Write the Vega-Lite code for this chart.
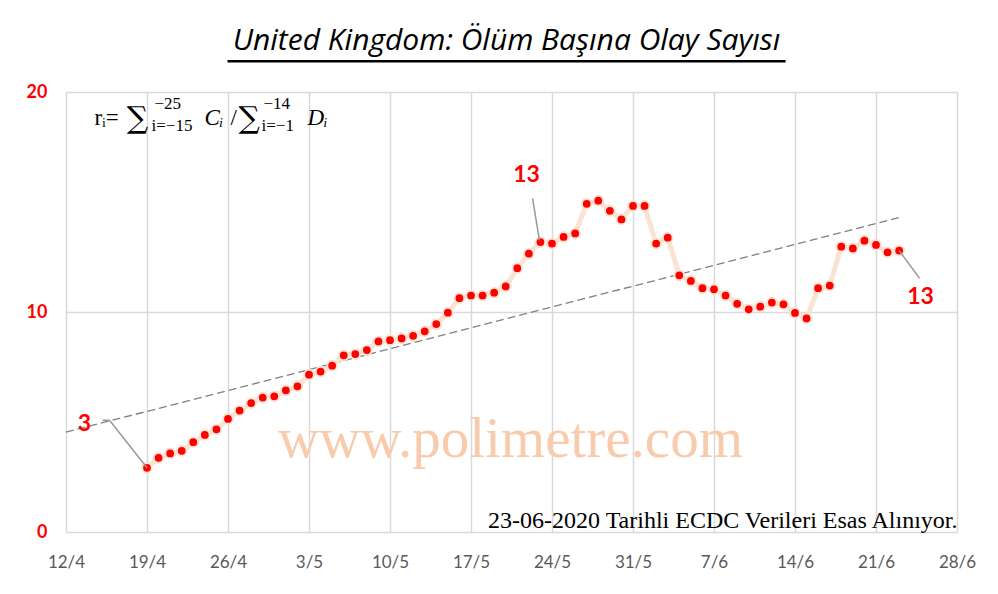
{
  "$schema": "https://vega.github.io/schema/vega-lite/v6.json",
  "width": 891,
  "height": 440,
  "autosize": "none",
  "padding": {"left": 66, "top": 92, "right": 41, "bottom": 62},
  "background": "white",
  "config": {"view": {"stroke": null}},
  "title": {"text": "United Kingdom: Ölüm Başına Olay Sayısı", "font": "Open Sans", "fontSize": 30, "fontStyle": "italic", "fontWeight": "normal", "color": "#000000", "anchor": "middle", "frame": "group", "baseline": "alphabetic", "offset": -20, "dx": -5},
  "data": {"values": [
    {"date": "2020-04-19", "v": 2.92}, {"date": "2020-04-20", "v": 3.37}, {"date": "2020-04-21", "v": 3.57}, {"date": "2020-04-22", "v": 3.69},
    {"date": "2020-04-23", "v": 4.08}, {"date": "2020-04-24", "v": 4.41}, {"date": "2020-04-25", "v": 4.67}, {"date": "2020-04-26", "v": 5.14},
    {"date": "2020-04-27", "v": 5.52}, {"date": "2020-04-28", "v": 5.86}, {"date": "2020-04-29", "v": 6.11}, {"date": "2020-04-30", "v": 6.17},
    {"date": "2020-05-01", "v": 6.44}, {"date": "2020-05-02", "v": 6.62}, {"date": "2020-05-03", "v": 7.15}, {"date": "2020-05-04", "v": 7.29},
    {"date": "2020-05-05", "v": 7.56}, {"date": "2020-05-06", "v": 8.03}, {"date": "2020-05-07", "v": 8.09}, {"date": "2020-05-08", "v": 8.27},
    {"date": "2020-05-09", "v": 8.66}, {"date": "2020-05-10", "v": 8.72}, {"date": "2020-05-11", "v": 8.80}, {"date": "2020-05-12", "v": 8.92},
    {"date": "2020-05-13", "v": 9.12}, {"date": "2020-05-14", "v": 9.45}, {"date": "2020-05-15", "v": 9.97}, {"date": "2020-05-16", "v": 10.63},
    {"date": "2020-05-17", "v": 10.75}, {"date": "2020-05-18", "v": 10.75}, {"date": "2020-05-19", "v": 10.88}, {"date": "2020-05-20", "v": 11.16},
    {"date": "2020-05-21", "v": 11.99}, {"date": "2020-05-22", "v": 12.65}, {"date": "2020-05-23", "v": 13.18}, {"date": "2020-05-24", "v": 13.11},
    {"date": "2020-05-25", "v": 13.41}, {"date": "2020-05-26", "v": 13.57}, {"date": "2020-05-27", "v": 14.92}, {"date": "2020-05-28", "v": 15.06},
    {"date": "2020-05-29", "v": 14.60}, {"date": "2020-05-30", "v": 14.21}, {"date": "2020-05-31", "v": 14.82}, {"date": "2020-06-01", "v": 14.82},
    {"date": "2020-06-02", "v": 13.11}, {"date": "2020-06-03", "v": 13.38}, {"date": "2020-06-04", "v": 11.67}, {"date": "2020-06-05", "v": 11.41},
    {"date": "2020-06-06", "v": 11.08}, {"date": "2020-06-07", "v": 11.03}, {"date": "2020-06-08", "v": 10.75}, {"date": "2020-06-09", "v": 10.37},
    {"date": "2020-06-10", "v": 10.12}, {"date": "2020-06-11", "v": 10.24}, {"date": "2020-06-12", "v": 10.43}, {"date": "2020-06-13", "v": 10.35},
    {"date": "2020-06-14", "v": 9.96}, {"date": "2020-06-15", "v": 9.71}, {"date": "2020-06-16", "v": 11.08}, {"date": "2020-06-17", "v": 11.20},
    {"date": "2020-06-18", "v": 12.97}, {"date": "2020-06-19", "v": 12.89}, {"date": "2020-06-20", "v": 13.24}, {"date": "2020-06-21", "v": 13.05},
    {"date": "2020-06-22", "v": 12.71}, {"date": "2020-06-23", "v": 12.79}
  ]},
  "encoding": {
    "x": {"field": "date", "type": "temporal",
      "scale": {"type": "utc", "domain": [{"year": 2020, "month": 4, "date": 12, "utc": true}, {"year": 2020, "month": 6, "date": 28, "utc": true}]},
      "axis": {"title": null, "values": [
        {"year": 2020, "month": 4, "date": 12, "utc": true}, {"year": 2020, "month": 4, "date": 19, "utc": true},
        {"year": 2020, "month": 4, "date": 26, "utc": true}, {"year": 2020, "month": 5, "date": 3, "utc": true},
        {"year": 2020, "month": 5, "date": 10, "utc": true}, {"year": 2020, "month": 5, "date": 17, "utc": true},
        {"year": 2020, "month": 5, "date": 24, "utc": true}, {"year": 2020, "month": 5, "date": 31, "utc": true},
        {"year": 2020, "month": 6, "date": 7, "utc": true}, {"year": 2020, "month": 6, "date": 14, "utc": true},
        {"year": 2020, "month": 6, "date": 21, "utc": true}, {"year": 2020, "month": 6, "date": 28, "utc": true}],
        "labelExpr": "utcFormat(datum.value, '%-d/%-m')", "labelFlush": false, "labelFont": "Lato", "labelFontSize": 17,
        "labelColor": "#595959", "labelPadding": 22, "domain": false, "ticks": false,
        "grid": true, "gridColor": "#D9D9D9", "gridWidth": 1.5}},
    "y": {"field": "v", "type": "quantitative",
      "scale": {"domain": [0, 20], "nice": false},
      "axis": {"title": null, "values": [0, 10, 20], "labelColor": "#FF0000", "labelFont": "Lato", "labelFontWeight": "bold",
        "labelFontSize": 18, "labelPadding": 19, "domain": false, "ticks": false,
        "grid": true, "gridColor": "#D9D9D9", "gridWidth": 1.5}}
  },
  "layer": [
    {
      "data": {"values": [{"date": "2020-05-20T10:00:00Z", "v": 4.17, "t": "www.polimetre.com"}]},
      "mark": {"type": "text", "font": "Liberation Serif", "fontSize": 57, "color": "#F8CBAD", "align": "center", "baseline": "middle"},
      "encoding": {"text": {"field": "t"}}
    },
    {
      "transform": [{"regression": "v", "on": "date", "extent": [1586649600000, 1592870400000]}],
      "mark": {"type": "line", "color": "#808080", "strokeWidth": 1.3, "strokeDash": [8, 4]},
      "encoding": {}
    },
    {
      "mark": {"type": "line", "color": "#FBE3D3", "strokeWidth": 5},
      "encoding": {}
    },
    {
      "mark": {"type": "point", "filled": true, "fill": "#FF0000", "stroke": "#FBE3D3", "strokeWidth": 2, "size": 95, "opacity": 1},
      "encoding": {}
    },
    {
      "data": {"values": [
        {"d1": "2020-04-15T03:36:00Z", "v1": 5.08, "d2": "2020-04-15T18:14:00Z", "v2": 5.08},
        {"d1": "2020-04-15T18:14:00Z", "v1": 5.08, "d2": "2020-04-19T00:00:00Z", "v2": 2.92},
        {"d1": "2020-05-22T07:40:00Z", "v1": 15.17, "d2": "2020-05-22T22:00:00Z", "v2": 13.26},
        {"d1": "2020-06-23T00:00:00Z", "v1": 12.79, "d2": "2020-06-24T18:30:00Z", "v2": 11.53}
      ]},
      "mark": {"type": "rule", "color": "#999999", "strokeWidth": 1.5},
      "encoding": {
        "x": {"field": "d1", "type": "temporal"}, "x2": {"field": "d2"},
        "y": {"field": "v1", "type": "quantitative"}, "y2": {"field": "v2"}
      }
    },
    {
      "data": {"values": [
        {"date": "2020-04-13T14:24:00Z", "v": 4.93, "t": "3"},
        {"date": "2020-05-21T19:12:00Z", "v": 16.21, "t": "13"},
        {"date": "2020-06-24T20:24:00Z", "v": 10.67, "t": "13"}
      ]},
      "mark": {"type": "text", "font": "Lato", "fontSize": 23, "fontWeight": "bold", "color": "#FF0000", "align": "center", "baseline": "middle"},
      "encoding": {"text": {"field": "t"}}
    },
    {
      "data": {"values": [{"date": "2020-06-28T01:00:00Z", "v": 0.2, "t": "23-06-2020 Tarihli ECDC Verileri Esas Alınıyor."}]},
      "mark": {"type": "text", "font": "Liberation Serif", "fontSize": 24, "color": "#000000", "align": "right", "baseline": "alphabetic"},
      "encoding": {"text": {"field": "t"}}
    },
    {
      "data": {"values": [
        {"date": "2020-04-14T11:00:00Z", "v": 18.49, "t": "rᵢ="},
        {"date": "2020-04-26T05:17:00Z", "v": 18.49, "t": "/"}
      ]},
      "mark": {"type": "text", "font": "Liberation Serif", "fontSize": 23, "color": "#000000", "align": "left", "baseline": "alphabetic"},
      "encoding": {"text": {"field": "t"}}
    },
    {
      "data": {"values": [
        {"date": "2020-04-17T06:00:00Z", "v": 18.35, "t": "∑"},
        {"date": "2020-04-26T22:00:00Z", "v": 18.35, "t": "∑"}
      ]},
      "mark": {"type": "text", "font": "DejaVu Serif", "fontSize": 30, "color": "#000000", "align": "left", "baseline": "alphabetic"},
      "encoding": {"text": {"field": "t"}}
    },
    {
      "data": {"values": [
        {"date": "2020-04-23T23:17:00Z", "v": 18.49, "t": "Cᵢ"},
        {"date": "2020-05-02T20:53:00Z", "v": 18.49, "t": "Dᵢ"}
      ]},
      "mark": {"type": "text", "font": "Liberation Serif", "fontSize": 23, "fontStyle": "italic", "color": "#000000", "align": "left", "baseline": "alphabetic"},
      "encoding": {"text": {"field": "t"}}
    },
    {
      "data": {"values": [
        {"date": "2020-04-19T15:36:00Z", "v": 19.21, "t": "−25"},
        {"date": "2020-04-19T09:22:00Z", "v": 18.24, "t": "i=−15"},
        {"date": "2020-04-29T01:40:00Z", "v": 19.21, "t": "−14"},
        {"date": "2020-04-28T21:36:00Z", "v": 18.24, "t": "i=−1"}
      ]},
      "mark": {"type": "text", "font": "Liberation Serif", "fontSize": 17, "color": "#000000", "align": "left", "baseline": "alphabetic"},
      "encoding": {"text": {"field": "t"}}
    },
    {
      "data": {"values": [{"d1": "2020-04-25T23:00:00Z", "d2": "2020-06-13T04:30:00Z", "v": 21.4}]},
      "mark": {"type": "rule", "color": "#000000", "strokeWidth": 2.5},
      "encoding": {
        "x": {"field": "d1", "type": "temporal"}, "x2": {"field": "d2"},
        "y": {"field": "v", "type": "quantitative"}
      }
    }
  ]
}
